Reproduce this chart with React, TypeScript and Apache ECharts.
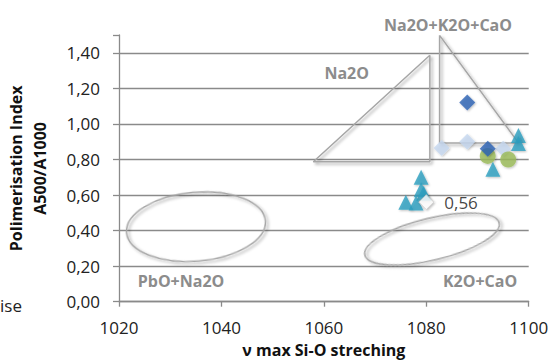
import React, { useEffect, useRef } from "react";
import * as echarts from "echarts";

const xTicks = [1020, 1040, 1060, 1080, 1100];
const yTickLabels = ["0,00", "0,20", "0,40", "0,60", "0,80", "1,00", "1,20", "1,40"];

const darkBlueDiamonds = [[1088, 1.12], [1092, 0.86]];
const lightBlueDiamonds = [[1083, 0.865], [1088, 0.9], [1095, 0.86]];
const greenCircles = [[1092, 0.82], [1096, 0.8]];
const tealTriangles = [
  [1093, 0.745], [1098, 0.935], [1098, 0.89],
  [1079, 0.7], [1079, 0.63], [1079.5, 0.61], [1076, 0.56], [1078, 0.555],
];
const whiteDiamond = [[1080, 0.56]];
const whiteDiamondLabel = "0,56";

const na2oTriangle = [[1080.7, 1.386], [1057.95, 0.787], [1080.7, 0.787], [1080.7, 1.386]];
const mixTriangle = [[1082.6, 1.498], [1082.6, 0.893], [1098, 0.893], [1082.6, 1.498]];

const regionLabels = ["Na2O+K2O+CaO", "Na2O", "PbO+Na2O", "K2O+CaO"];

const FONT = "'Open Sans', sans-serif";
const GRID = "#8a8a8a";
const SHAPE = "#a6a6a6";
const ANNOT = "#8c8c8c";

export default function App() {
  const ref = useRef<HTMLDivElement>(null);
  useEffect(() => {
    if (!ref.current) return;
    const chart = echarts.init(ref.current, null, { renderer: "svg" });
    const shapeLine = {
      color: SHAPE,
      width: 1.5,
      shadowBlur: 3,
      shadowColor: "rgba(0,0,0,0.35)",
      shadowOffsetX: 2,
      shadowOffsetY: 2,
    };
    const markerShadow = {
      shadowBlur: 2,
      shadowColor: "rgba(0,0,0,0.3)",
      shadowOffsetX: 1,
      shadowOffsetY: 1,
    };
    chart.setOption({
      animation: false,
      textStyle: { fontFamily: FONT },
      grid: { left: 119, right: 23.3, top: 35, bottom: 60.3, containLabel: false, outerBoundsMode: "none" },
      xAxis: {
        type: "value",
        min: xTicks[0],
        max: xTicks[xTicks.length - 1],
        interval: 20,
        axisLine: { show: true, lineStyle: { color: GRID, width: 1.3 } },
        axisTick: { show: true, length: 5, lineStyle: { color: GRID, width: 1.3 } },
        splitLine: { show: false },
        axisLabel: {
          color: "#222",
          fontSize: 17,
          margin: 17,
          fontFamily: FONT,
          formatter: (v: number) => String(v),
        },
        name: "ν max Si-O streching",
        nameLocation: "middle",
        nameGap: 40,
        nameTextStyle: { color: "#111", fontSize: 16, fontWeight: "bold", fontFamily: FONT },
      },
      yAxis: {
        type: "value",
        min: 0,
        max: 1.5,
        interval: 0.2,
        axisLine: { show: true, lineStyle: { color: GRID, width: 1.3 } },
        axisTick: { show: true, length: 6, lineStyle: { color: GRID, width: 1.3 } },
        splitLine: { show: true, showMaxLine: false, lineStyle: { color: GRID, width: 1.3 } },
        axisLabel: {
          color: "#222",
          fontSize: 17,
          margin: 19,
          fontFamily: FONT,
          formatter: (v: number) => {
            const i = Math.round(v / 0.2);
            return Math.abs(v - i * 0.2) < 1e-6 ? yTickLabels[i] ?? "" : "";
          },
        },
        name: "Polimerisation Index\nA500/A1000",
        nameLocation: "middle",
        nameRotate: 90,
        nameGap: 67,
        nameTextStyle: { color: "#111", fontSize: 16, fontWeight: "bold", lineHeight: 24, fontFamily: FONT },
      },
      series: [
        {
          type: "line",
          data: na2oTriangle,
          symbol: "none",
          lineStyle: shapeLine,
          silent: true,
          z: 1,
        },
        {
          type: "line",
          data: mixTriangle,
          symbol: "none",
          lineStyle: shapeLine,
          silent: true,
          z: 1,
        },
        {
          type: "scatter",
          data: lightBlueDiamonds,
          symbol: "diamond",
          symbolSize: 16,
          itemStyle: { color: "#c5d8f0", ...markerShadow },
          z: 3,
        },
        {
          type: "scatter",
          data: greenCircles,
          symbol: "circle",
          symbolSize: 16,
          itemStyle: { color: "#9bbb59", ...markerShadow },
          z: 3,
        },
        {
          type: "scatter",
          data: darkBlueDiamonds,
          symbol: "diamond",
          symbolSize: 16,
          itemStyle: { color: "#2c62b4", ...markerShadow },
          z: 3,
        },
        {
          type: "scatter",
          data: tealTriangles,
          symbol: "triangle",
          symbolSize: 15,
          itemStyle: { color: "#2a9fbf", ...markerShadow },
          z: 3,
        },
        {
          type: "scatter",
          data: whiteDiamond,
          symbol: "diamond",
          symbolSize: 15,
          itemStyle: { color: "#ffffff", borderColor: "#c8c8c8", borderWidth: 1, ...markerShadow },
          label: {
            show: true,
            position: "right",
            distance: 10,
            formatter: whiteDiamondLabel,
            color: "#111",
            fontSize: 17,
            fontFamily: FONT,
          },
          z: 4,
        },
      ],
      graphic: [
        {
          type: "ellipse",
          x: 196,
          y: 226.7,
          rotation: 0.085,
          shape: { cx: 0, cy: 0, rx: 69.7, ry: 34.5 },
          style: { fill: "none", stroke: SHAPE, lineWidth: 1.5, shadowBlur: 3, shadowColor: "rgba(0,0,0,0.35)", shadowOffsetX: 2, shadowOffsetY: 2 },
          z: 1,
        },
        {
          type: "ellipse",
          x: 432,
          y: 239,
          rotation: 0.235,
          shape: { cx: 0, cy: 0, rx: 69, ry: 21 },
          style: { fill: "none", stroke: SHAPE, lineWidth: 1.5, shadowBlur: 3, shadowColor: "rgba(0,0,0,0.35)", shadowOffsetX: 2, shadowOffsetY: 2 },
          z: 1,
        },
        {
          type: "text",
          x: 448,
          y: 25,
          style: { text: regionLabels[0], fill: ANNOT, font: `bold 16px ${FONT}`, align: "center", verticalAlign: "middle" },
        },
        {
          type: "text",
          x: 346.7,
          y: 72.7,
          style: { text: regionLabels[1], fill: ANNOT, font: `bold 16px ${FONT}`, align: "center", verticalAlign: "middle" },
        },
        {
          type: "text",
          x: 181,
          y: 281,
          style: { text: regionLabels[2], fill: ANNOT, font: `bold 16px ${FONT}`, align: "center", verticalAlign: "middle" },
        },
        {
          type: "text",
          x: 480,
          y: 280.7,
          style: { text: regionLabels[3], fill: ANNOT, font: `bold 16px ${FONT}`, align: "center", verticalAlign: "middle" },
        },
        {
          type: "text",
          x: 0,
          y: 305,
          style: { text: "ise", fill: "#222", font: `17px ${FONT}`, align: "left", verticalAlign: "middle" },
        },
      ],
    });
    return () => chart.dispose();
  }, []);
  return <div ref={ref} style={{ width: 552, height: 362, position: "absolute", left: 0, top: 0, background: "#fff" }} />;
}
